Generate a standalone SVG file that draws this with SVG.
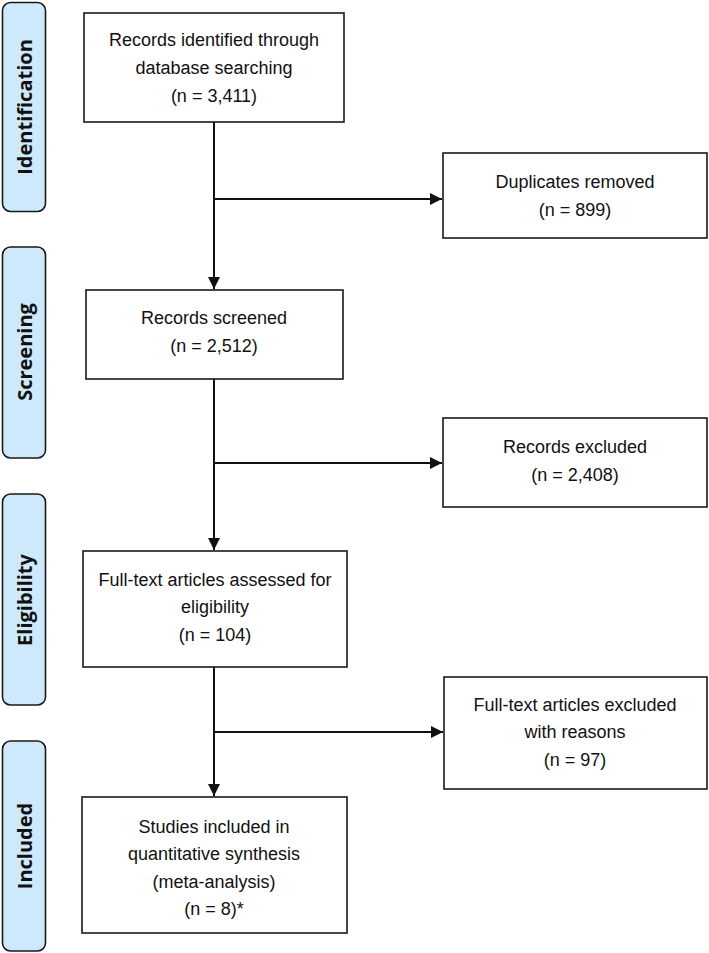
<svg xmlns="http://www.w3.org/2000/svg" width="709" height="953" viewBox="0 0 709 953">
<style>
.bar{fill:#cde9fb;stroke:#1a1a1a;stroke-width:1.6}
.box{fill:#ffffff;stroke:#1a1a1a;stroke-width:1.6}
.lbl{font-family:"Open Sans","DejaVu Sans",sans-serif;font-weight:bold;font-size:20px;fill:#111;text-anchor:middle}
.t{font-family:"Liberation Sans",Arial,sans-serif;font-size:18px;fill:#111;text-anchor:middle}
.ln{fill:none;stroke:#111;stroke-width:2}
</style>
<defs>
<marker id="ah" viewBox="0 0 10 10" refX="10" refY="5" markerWidth="6" markerHeight="6" orient="auto" markerUnits="strokeWidth">
<path d="M0,0 L10,5 L0,10 Z" fill="#111"/>
</marker>
</defs>
<rect width="709" height="953" fill="#ffffff"/>

<g id="stage-identification">
<rect class="bar" x="2.5" y="2.5" width="43" height="209" rx="8"/>
<text class="lbl" transform="translate(32,107) rotate(-90)">Identification</text>
</g>
<g id="stage-screening">
<rect class="bar" x="2.5" y="247" width="43" height="211" rx="8"/>
<text class="lbl" transform="translate(32,352) rotate(-90)">Screening</text>
</g>
<g id="stage-eligibility">
<rect class="bar" x="2.5" y="494" width="43" height="211" rx="8"/>
<text class="lbl" transform="translate(32,600) rotate(-90)">Eligibility</text>
</g>
<g id="stage-included">
<rect class="bar" x="2.5" y="741" width="43" height="210" rx="8"/>
<text class="lbl" transform="translate(32,846) rotate(-90)">Included</text>
</g>

<g id="connectors">
<path class="ln" d="M214,122 V289" marker-end="url(#ah)"/>
<path class="ln" d="M214,199 H442" marker-end="url(#ah)"/>
<path class="ln" d="M214,379 V550" marker-end="url(#ah)"/>
<path class="ln" d="M214,463 H442" marker-end="url(#ah)"/>
<path class="ln" d="M214,667 V796" marker-end="url(#ah)"/>
<path class="ln" d="M214,732 H443" marker-end="url(#ah)"/>
</g>

<g id="records-identified">
<rect class="box" x="84" y="13" width="260" height="109"/>
<text class="t" x="214" y="46">Records identified through</text>
<text class="t" x="214" y="74">database searching</text>
<text class="t" x="214" y="102">(n = 3,411)</text>
</g>
<g id="duplicates-removed">
<rect class="box" x="443" y="153" width="264" height="85"/>
<text class="t" x="575" y="188">Duplicates removed</text>
<text class="t" x="575" y="216">(n = 899)</text>
</g>
<g id="records-screened">
<rect class="box" x="86" y="290" width="257" height="89"/>
<text class="t" x="214" y="324">Records screened</text>
<text class="t" x="214" y="352">(n = 2,512)</text>
</g>
<g id="records-excluded">
<rect class="box" x="443" y="418" width="264" height="89"/>
<text class="t" x="575" y="453">Records excluded</text>
<text class="t" x="575" y="481">(n = 2,408)</text>
</g>
<g id="fulltext-assessed">
<rect class="box" x="83" y="551" width="264" height="116"/>
<text class="t" x="215" y="586">Full-text articles assessed for</text>
<text class="t" x="215" y="613">eligibility</text>
<text class="t" x="215" y="641">(n = 104)</text>
</g>
<g id="fulltext-excluded">
<rect class="box" x="444" y="677" width="263" height="112"/>
<text class="t" x="575" y="711">Full-text articles excluded</text>
<text class="t" x="575" y="738">with reasons</text>
<text class="t" x="575" y="766">(n = 97)</text>
</g>
<g id="studies-included">
<rect class="box" x="82" y="797" width="265" height="136"/>
<text class="t" x="214" y="833">Studies included in</text>
<text class="t" x="214" y="860">quantitative synthesis</text>
<text class="t" x="214" y="888">(meta-analysis)</text>
<text class="t" x="214" y="915">(n = 8)*</text>
</g>
</svg>
